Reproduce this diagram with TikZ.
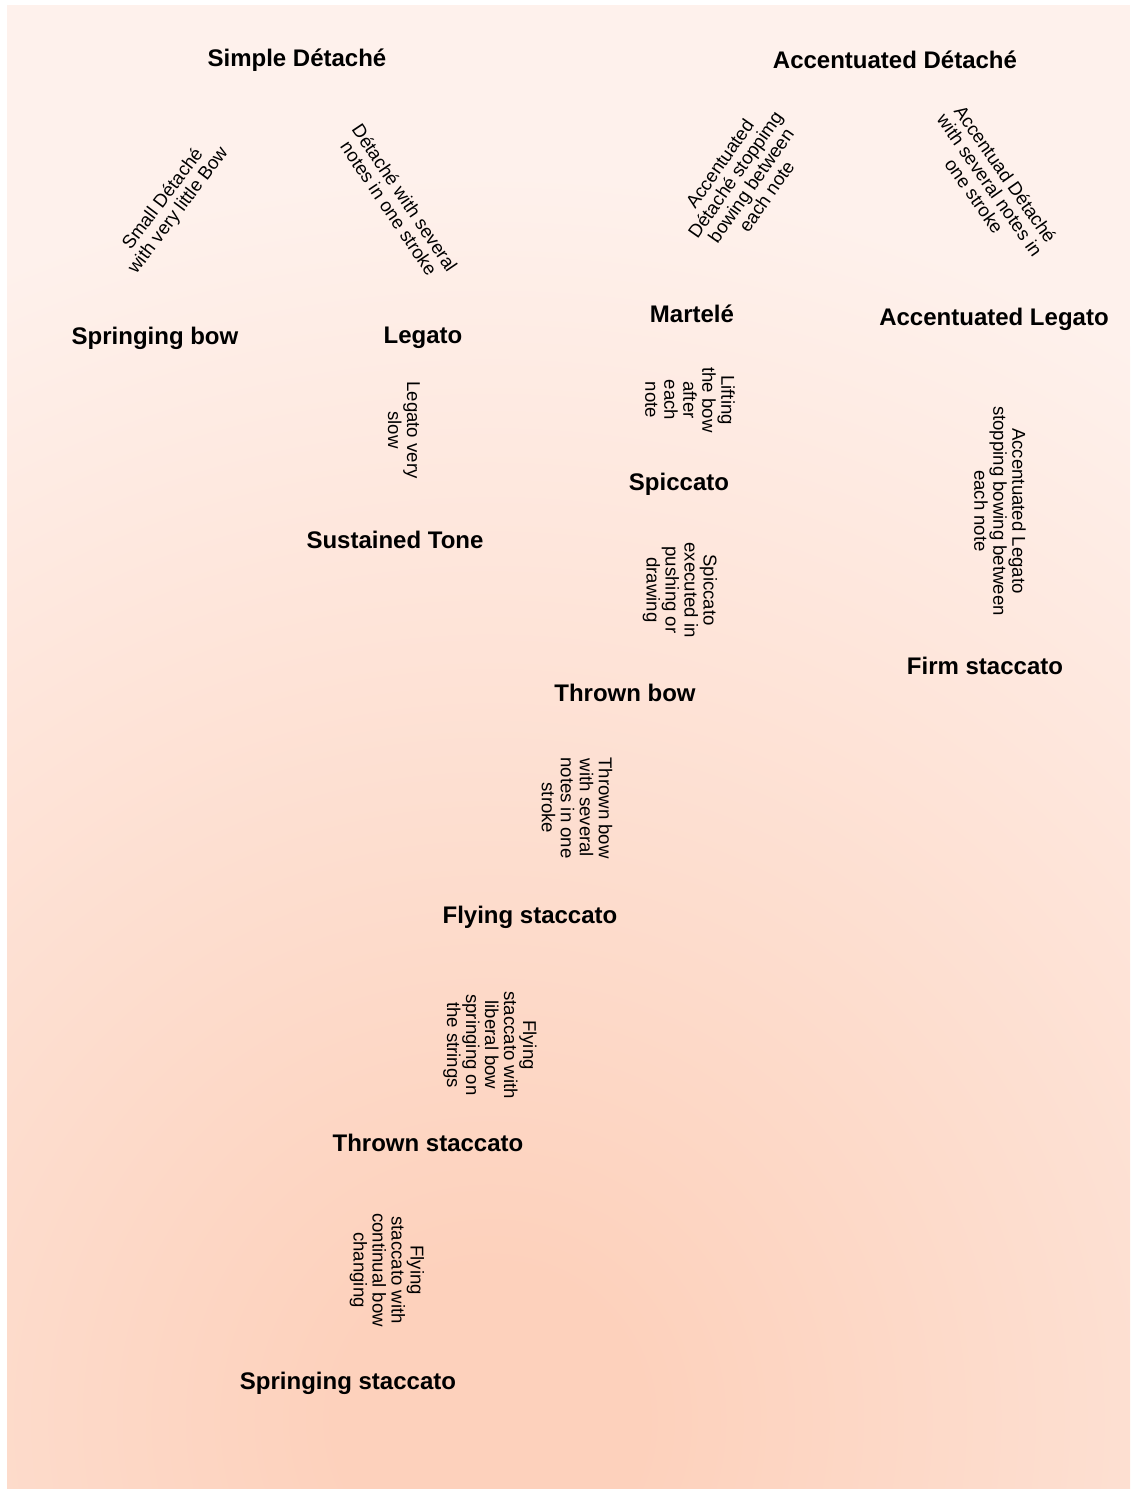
\documentclass[tikz,border=0pt]{standalone}
\usepackage{fontspec}
\setmainfont{Liberation Sans}
\definecolor{glowin}{HTML}{FDD1BC}
\definecolor{glowout}{HTML}{FEF1EC}
\pgfdeclareradialshading{peachglow}{\pgfpoint{0bp}{0bp}}{color(0bp)=(glowin); color(3bp)=(glowin); color(25bp)=(glowout); color(50bp)=(glowout)}
\tikzset{
  technique/.style={font=\bfseries\fontsize{12}{14}\selectfont, inner sep=1pt},
  remark/.style={font=\fontsize{9.3}{9.5}\selectfont, align=center, inner sep=1pt}
}

\begin{document}
\begin{tikzpicture}[x=0.5pt,y=-0.5pt]
\useasboundingbox (0,0) rectangle (1136,1490);
\begin{scope}
\clip (7,5) rectangle (1130,1488);
\fill[glowout] (7,5) rectangle (1130,1488);
\shade[shading=peachglow] (490,1420) circle (1250);
\end{scope}
% techniques
\node[technique] (sd) at (297,60) {Simple Détaché};
\node[technique] (ad) at (895,60) {Accentuated Détaché};
\node[technique] (sb) at (155,338) {Springing bow};
\node[technique] (leg) at (423,338) {Legato};
\node[technique] (mar) at (692,314) {Martelé};
\node[technique] (al) at (994,319) {Accentuated Legato};
\node[technique] (sus) at (395,540) {Sustained Tone};
\node[technique] (spi) at (679,484) {Spiccato};
\node[technique] (fst) at (985,666) {Firm staccato};
\node[technique] (tb) at (625,693) {Thrown bow};
\node[technique] (fly) at (530,917) {Flying staccato};
\node[technique] (ts) at (428,1143) {Thrown staccato};
\node[technique] (ss) at (348,1383) {Springing staccato};
% remarks between them
\node[remark, rotate=53] (sdsb) at (171,205) {Small Détaché\\with very little Bow};
\node[remark, rotate=-56] (sdleg) at (397,203) {Détaché with several\\notes in one stroke};
\node[remark, rotate=55] (admar) at (743,180) {Accentuated\\Détaché stoppimg\\bowing between\\each note};
\node[remark, rotate=-55] (adal) at (990,185) {Accentuad Détaché\\with several notes in\\one stroke};
\node[remark, rotate=-90] (marspi) at (690,400) {Lifting\\the bow\\after\\each\\note};
\node[remark, rotate=-90] (legsus) at (404,430) {Legato very\\slow};
\node[remark, rotate=-90] (spitb) at (680,590) {Spiccato\\executed in\\pushing or\\drawing};
\node[remark, rotate=-90] (alfst) at (1000,511) {Accentuated Legato\\stopping bowing between\\each note};
\node[remark, rotate=-90] (tbfly) at (577,808) {Thrown bow\\with several\\notes in one\\stroke};
\node[remark, rotate=-90] (flyts) at (490,1045) {Flying\\staccato with\\liberal bow\\springing on\\the strings};
\node[remark, rotate=-90] (tsss) at (387,1270) {Flying\\staccato with\\continual bow\\changing};
\end{tikzpicture}
\end{document}
